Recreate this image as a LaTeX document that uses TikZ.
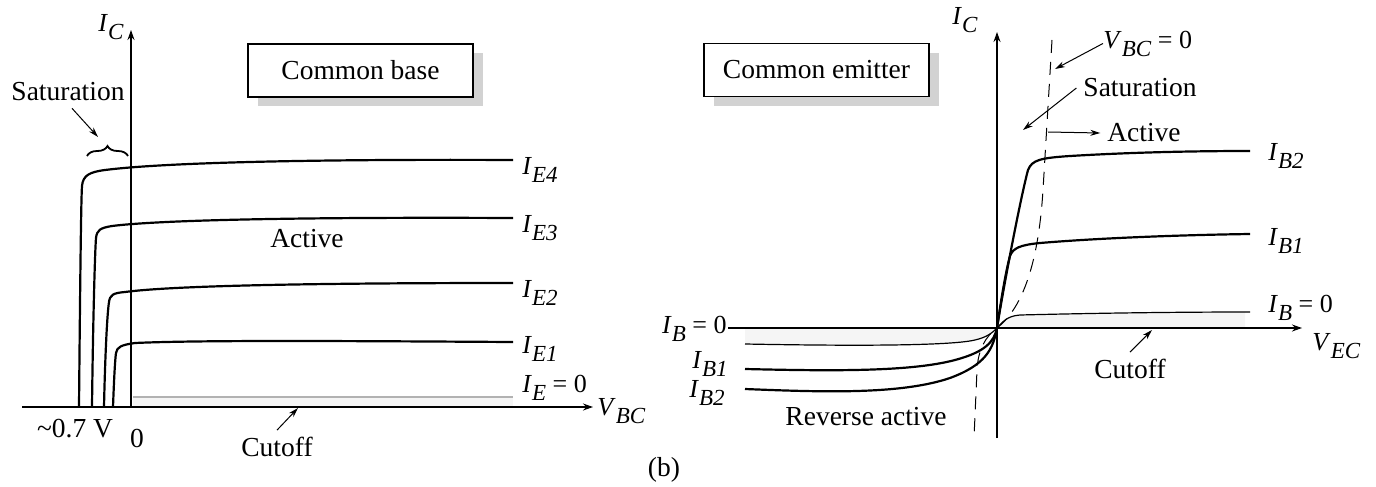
\documentclass[tikz,border=0pt]{standalone}
\usepackage{fontspec}
\setmainfont{Liberation Serif}
\usetikzlibrary{arrows.meta, shadows, decorations.pathreplacing}
\newcommand{\sublab}[2]{\textit{#1}\raisebox{-4pt}{\fontsize{11.5}{12}\selectfont\textit{#2}}}

\tikzset{
  axis/.style={line width=0.6pt, -{Stealth[length=5pt,width=3.5pt]}},
  curve/.style={line width=1.1pt},
  pointer/.style={line width=0.5pt, -{Stealth[length=5pt,width=3pt]}},
  titlebox/.style={draw, line width=0.8pt, fill=white, minimum width=112.5pt, minimum height=26.5pt,
    drop shadow={shadow xshift=5pt, shadow yshift=-4.5pt, fill=gray!35, opacity=1}},
  curvelab/.style={font=\fontsize{13}{15}\selectfont, inner sep=0pt},
  every node/.style={font=\fontsize{13.75}{16}\selectfont}
}

\begin{document}
\begin{tikzpicture}[x=0.5pt, y=-0.5pt]
\useasboundingbox (0,0) rectangle (1376,487);

% common base
\fill[gray!8] (133,397) rectangle (513,407);
\draw[gray!60, line width=1pt] (133,397) -- (513,397);
\draw[axis] (22,407) -- (593,407);
\draw[axis] (131,407) -- (131,30);
\draw[curve] (79,407) .. controls (80,300) and (81,200) .. (82,186) .. controls (83,175) and (90,172) .. (105,170) .. controls (160,163) and (300,159) .. (513,160);
\draw[curve] (92,407) .. controls (93,320) and (95,250) .. (96,238) .. controls (97,230) and (100,228) .. (112,226) .. controls (160,220) and (300,217) .. (513,218);
\draw[curve] (104,407) .. controls (105,360) and (107,315) .. (109,302) .. controls (110,295) and (113,293) .. (125,292) .. controls (170,286) and (300,283) .. (513,283);
\draw[curve] (113,407) .. controls (114,380) and (115,360) .. (116,353) .. controls (117,347) and (121,345) .. (135,343) .. controls (200,340) and (350,341) .. (513,342);
\draw[line width=0.9pt, decorate, decoration={brace, amplitude=5pt}] (87,156) -- (128,156);

\node (cbase) [titlebox] at (360.5,70.5) {Common base};
\node (satL) at (68,92) {Saturation};
\node (actL) at (307,239) {Active};
\node (knee) at (75,429) {\textasciitilde0.7 V};
\node (zeroL) at (137,438) {0};
\node (cutL) at (277,447) {Cutoff};
\node[curvelab, anchor=base west] (icL) at (98,32) {\sublab{I}{C}};
\node[curvelab, anchor=base west] (vbcL) at (597,415) {\sublab{V}{BC}};
\node[curvelab, anchor=base west] (ie4) at (522,174) {\sublab{I}{E4}};
\node[curvelab, anchor=base west] (ie3) at (522,232) {\sublab{I}{E3}};
\node[curvelab, anchor=base west] (ie2) at (522,297) {\sublab{I}{E2}};
\node[curvelab, anchor=base west] (ie1) at (522,353) {\sublab{I}{E1}};
\node[curvelab, anchor=base west] (ie0) at (522,392) {\sublab{I}{E} = 0};
\coordinate (satLtip) at (98,137);
\coordinate (cutLtip) at (298,408);
\draw[pointer] ([xshift=2pt]satL.south) -- (satLtip);
\draw[pointer] (cutL.north) -- (cutLtip);

% common emitter
\coordinate (O) at (997,328);
\fill[gray!8] (745,328) -- (745,344) .. controls (850,346) and (950,346) .. (975,340) .. controls (988,337) and (993,332) .. (O)
  .. controls (1002,323) and (1006,316) .. (1020,315) .. controls (1100,313) and (1180,312) .. (1245,312) -- (1245,328) -- cycle;
\draw[axis] (728,328) -- (1302,328);
\draw[axis] (997,438) -- (997,32);
\draw[line width=0.5pt, dash pattern=on 6.5pt off 4.5pt] (1052,40) -- (1043,190) .. controls (1038,270) and (1020,310) .. (O) .. controls (985,337) and (978,350) .. (977,370) -- (974,438);
\draw[curve] (745,389) .. controls (820,392) and (900,395) .. (950,378) .. controls (985,365) and (993,350) .. (O)
  .. controls (1003,290) and (1020,200) .. (1028,170) .. controls (1032,160) and (1040,158) .. (1070,156) .. controls (1120,153) and (1180,151) .. (1250,151);
\draw[curve] (745,369) .. controls (830,371) and (910,372) .. (955,360) .. controls (985,352) and (994,342) .. (O)
  .. controls (1001,300) and (1006,270) .. (1010,256) .. controls (1013,248) and (1020,245) .. (1040,243) .. controls (1100,238) and (1180,235) .. (1250,234);
\draw[line width=0.6pt] (745,344) .. controls (850,346) and (950,346) .. (975,340) .. controls (988,337) and (993,332) .. (O)
  .. controls (1002,323) and (1006,316) .. (1020,315) .. controls (1100,313) and (1180,312) .. (1250,312);

\node (cemit) [titlebox] at (816.5,70) {Common emitter};
\node (revA) at (866,417) {Reverse active};
\node (satR) at (1140,88) {Saturation};
\node (actR) at (1144,133) {Active};
\node (cutR) at (1130,369) {Cutoff};
\node[curvelab, anchor=base west] (icR) at (952,25) {\sublab{I}{C}};
\node[curvelab, anchor=base west] (vec) at (1312,350) {\sublab{V}{EC}};
\node[curvelab, anchor=base west] (vbc0) at (1103,48) {\sublab{V}{BC} = 0};
\node[curvelab, anchor=base west] (ib2) at (1268,160) {\sublab{I}{B2}};
\node[curvelab, anchor=base west] (ib1) at (1268,245) {\sublab{I}{B1}};
\node[curvelab, anchor=base west] (ib0) at (1268,312) {\sublab{I}{B} = 0};
\node[curvelab, anchor=base east] (ib0L) at (727,333) {\sublab{I}{B} = 0};
\node[curvelab, anchor=base east] (ib1L) at (728,368) {\sublab{I}{B1}};
\node[curvelab, anchor=base east] (ib2L) at (725,397) {\sublab{I}{B2}};
\coordinate (vbc0tip) at (1055,69);
\coordinate (satRtip) at (1023,130);
\coordinate (actRtail) at (1048,132);
\coordinate (cutRtip) at (1152,330);
\draw[pointer] (vbc0.west) -- (vbc0tip);
\draw[pointer] (satR.west) -- (satRtip);
\draw[pointer] (actRtail) -- (actR.west);
\draw[pointer] (cutR.north) -- (cutRtip);

\node (fig) at (664,470) {(b)};
\end{tikzpicture}
\end{document}
